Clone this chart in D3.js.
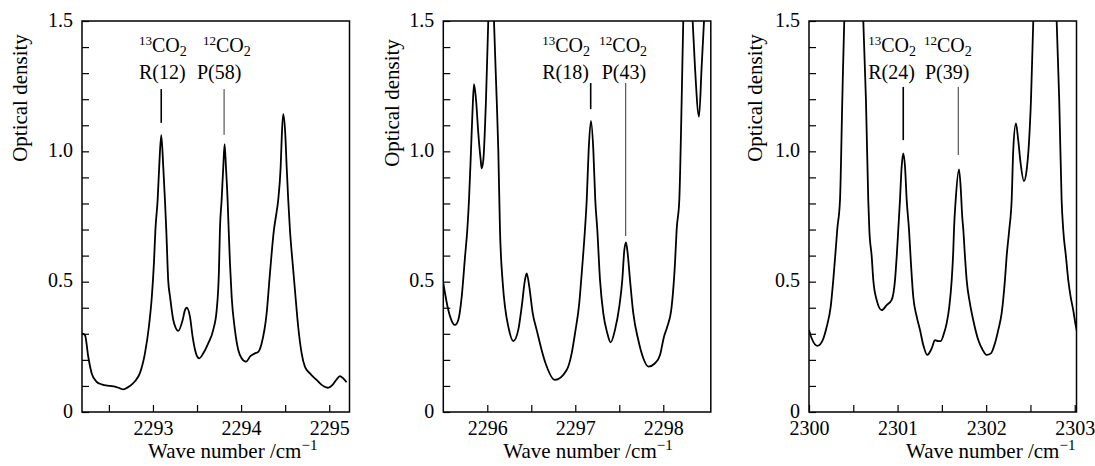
<!DOCTYPE html>
<html>
<head>
<meta charset="utf-8">
<script src="https://cdn.jsdelivr.net/npm/d3@7"></script>
<style>
  body { margin: 0; background: #fff; }
</style>
</head>
<body>
<svg id="chart" width="1095" height="466"></svg>
<script>
// spectra: [wave number, optical density]
const spectrum1 = [
  [2292.195, 0.302], [2292.229, 0.295], [2292.266, 0.212], [2292.305, 0.148], [2292.361, 0.116],
  [2292.418, 0.106], [2292.512, 0.100], [2292.569, 0.097], [2292.626, 0.091], [2292.663, 0.087],
  [2292.739, 0.100], [2292.796, 0.118], [2292.853, 0.150], [2292.909, 0.225], [2292.955, 0.330],
  [2292.989, 0.450], [2293.011, 0.570], [2293.028, 0.700], [2293.053, 0.813], [2293.071, 0.941],
  [2293.094, 1.062], [2293.117, 0.941], [2293.136, 0.813], [2293.151, 0.700], [2293.174, 0.500],
  [2293.193, 0.445], [2293.230, 0.354], [2293.255, 0.325], [2293.287, 0.311], [2293.337, 0.353],
  [2293.363, 0.391], [2293.382, 0.400], [2293.420, 0.366], [2293.450, 0.289], [2293.488, 0.225],
  [2293.525, 0.206], [2293.571, 0.225], [2293.627, 0.263], [2293.684, 0.315], [2293.723, 0.391],
  [2293.749, 0.545], [2293.760, 0.700], [2293.779, 0.813], [2293.798, 0.941], [2293.813, 1.028],
  [2293.828, 0.941], [2293.847, 0.813], [2293.859, 0.700], [2293.874, 0.570], [2293.893, 0.442],
  [2293.930, 0.315], [2293.968, 0.238], [2294.006, 0.206], [2294.055, 0.193], [2294.108, 0.215],
  [2294.157, 0.225], [2294.195, 0.231], [2294.233, 0.263], [2294.290, 0.379], [2294.327, 0.530],
  [2294.373, 0.700], [2294.395, 0.750], [2294.421, 0.813], [2294.449, 0.941], [2294.463, 1.069],
  [2294.478, 1.143], [2294.501, 1.069], [2294.517, 0.941], [2294.535, 0.813], [2294.554, 0.700],
  [2294.585, 0.570], [2294.611, 0.468], [2294.648, 0.327], [2294.687, 0.225], [2294.724, 0.174],
  [2294.781, 0.148], [2294.857, 0.123], [2294.914, 0.104], [2294.982, 0.093], [2295.045, 0.107],
  [2295.084, 0.125], [2295.121, 0.138], [2295.159, 0.129], [2295.197, 0.114]
];

const spectrum2 = [
  [2295.500, 0.494], [2295.557, 0.391], [2295.595, 0.350], [2295.633, 0.334], [2295.670, 0.353],
  [2295.709, 0.442], [2295.747, 0.596], [2295.773, 0.700], [2295.792, 0.813], [2295.815, 1.005],
  [2295.834, 1.171], [2295.849, 1.258], [2295.872, 1.197], [2295.898, 1.069], [2295.925, 0.967],
  [2295.936, 0.935], [2295.955, 0.967], [2295.985, 1.197], [2296.011, 1.500], [2296.049, 1.850],
  [2296.076, 1.500], [2296.107, 1.197], [2296.125, 1.005], [2296.144, 0.700], [2296.175, 0.497],
  [2296.201, 0.404], [2296.239, 0.327], [2296.295, 0.272], [2296.352, 0.315], [2296.391, 0.404],
  [2296.428, 0.506], [2296.448, 0.532], [2296.477, 0.481], [2296.516, 0.379], [2296.561, 0.315],
  [2296.656, 0.193], [2296.769, 0.123], [2296.902, 0.161], [2296.959, 0.225], [2296.997, 0.302],
  [2297.045, 0.417], [2297.073, 0.532], [2297.110, 0.700], [2297.130, 0.813], [2297.152, 1.005],
  [2297.178, 1.117], [2297.205, 1.005], [2297.227, 0.813], [2297.250, 0.700], [2297.281, 0.506],
  [2297.318, 0.379], [2297.364, 0.302], [2297.402, 0.267], [2297.451, 0.315], [2297.500, 0.404],
  [2297.534, 0.506], [2297.557, 0.620], [2297.576, 0.651], [2297.595, 0.609], [2297.622, 0.506],
  [2297.659, 0.379], [2297.716, 0.276], [2297.773, 0.206], [2297.830, 0.174], [2297.906, 0.187],
  [2297.963, 0.219], [2298.008, 0.289], [2298.045, 0.327], [2298.095, 0.404], [2298.133, 0.570],
  [2298.152, 0.700], [2298.182, 0.813], [2298.209, 1.197], [2298.227, 1.500], [2298.281, 1.900],
  [2298.334, 1.500], [2298.360, 1.325], [2298.406, 1.133], [2298.436, 1.325], [2298.463, 1.500],
  [2298.539, 2.000]
];

const spectrum3 = [
  [2300.000, 0.315], [2300.030, 0.283], [2300.094, 0.254], [2300.155, 0.276], [2300.200, 0.327],
  [2300.245, 0.404], [2300.274, 0.506], [2300.301, 0.620], [2300.319, 0.700], [2300.350, 0.813],
  [2300.376, 1.197], [2300.398, 1.500], [2300.508, 2.000], [2300.613, 1.500], [2300.643, 1.197],
  [2300.669, 0.813], [2300.681, 0.700], [2300.708, 0.596], [2300.726, 0.506], [2300.764, 0.430],
  [2300.821, 0.391], [2300.877, 0.410], [2300.933, 0.430], [2300.971, 0.506], [2300.990, 0.596],
  [2301.008, 0.700], [2301.027, 0.813], [2301.046, 0.941], [2301.064, 0.992], [2301.084, 0.941],
  [2301.103, 0.813], [2301.129, 0.700], [2301.151, 0.570], [2301.177, 0.442], [2301.216, 0.366],
  [2301.253, 0.315], [2301.290, 0.257], [2301.335, 0.219], [2301.385, 0.244], [2301.422, 0.276],
  [2301.459, 0.272], [2301.487, 0.272], [2301.524, 0.302], [2301.554, 0.340], [2301.584, 0.404],
  [2301.611, 0.506], [2301.629, 0.620], [2301.637, 0.700], [2301.656, 0.813], [2301.693, 0.931],
  [2301.712, 0.864], [2301.730, 0.749], [2301.742, 0.700], [2301.761, 0.596], [2301.780, 0.506],
  [2301.817, 0.417], [2301.854, 0.353], [2301.911, 0.276], [2301.961, 0.238], [2302.006, 0.219],
  [2302.054, 0.225], [2302.099, 0.263], [2302.137, 0.315], [2302.175, 0.379], [2302.212, 0.506],
  [2302.231, 0.596], [2302.261, 0.700], [2302.288, 0.813], [2302.306, 1.005], [2302.336, 1.107],
  [2302.362, 1.043], [2302.389, 0.954], [2302.427, 0.886], [2302.457, 0.928], [2302.483, 1.031],
  [2302.506, 1.197], [2302.532, 1.500], [2302.664, 2.200], [2302.796, 1.500], [2302.825, 1.197],
  [2302.852, 0.813], [2302.870, 0.700], [2302.901, 0.596], [2302.927, 0.506], [2302.954, 0.442],
  [2302.983, 0.391], [2303.010, 0.334], [2303.025, 0.308]
];

const xDomains = [[2292.195, 2295.23], [2295.5, 2298.54], [2300, 2303.02]];
const xTickLabels = [[2293, 2294, 2295], [2296, 2297, 2298], [2300, 2301, 2302, 2303]];
const xMinorTicks = [[2292.5, 2293.5, 2294.5], [2296.5, 2297.5], [2300.5, 2301.5, 2302.5]];
const yTickLabels = [0, 0.5, 1.0, 1.5];
const yMinorTicks = [0.1, 0.2, 0.3, 0.4, 0.6, 0.7, 0.8, 0.9, 1.1, 1.2, 1.3, 1.4];

// annotations: line names, marker x, marker top/bottom (OD), text start
const lineNames13 = ['R(12)', 'R(18)', 'R(24)'];
const lineNames12 = ['P(58)', 'P(43)', 'P(39)'];
const marker13 = [2293.094, 2297.175, 2301.064];
const marker12 = [2293.807, 2297.573, 2301.685];
const markerTop = [1.239, 1.262, 1.247];
const marker13Bottom = [1.109, 1.162, 1.043];
const marker12Bottom = [1.063, 0.675, 0.986];
const text13Start = [2292.841, 2296.625, 2300.669];
const head12Start = [2293.567, 2297.273, 2301.298];
const text12Start = [2293.499, 2297.300, 2301.309];

const spectra = [spectrum1, spectrum2, spectrum3];

const FONT = '"Liberation Serif"';
const PANEL_LEFT = [82, 443.3, 809];
const TOP = 21;
const WIDTH = 267.5;
const HEIGHT = 391;
const Y_LABEL_OFFSET = [-55, -44, -47];
const Y_LABEL_CENTER = [98, 103, 98];
const X_LABEL_OFFSET = [66, 60, 97];

const svg = d3.select('#chart');
const defs = svg.append('defs');

spectra.forEach((data, i) => {
  const x = d3.scaleLinear().domain(xDomains[i]).range([0, WIDTH]);
  const y = d3.scaleLinear().domain([0, 1.5]).range([HEIGHT, 0]);

  const g = svg.append('g')
    .attr('transform', `translate(${PANEL_LEFT[i]},${TOP})`);

  defs.append('clipPath').attr('id', `clip${i}`)
    .append('rect').attr('width', WIDTH).attr('height', HEIGHT);

  // y ticks point inwards
  g.append('g')
    .call(d3.axisLeft(y).tickValues(yMinorTicks.concat(yTickLabels)).tickSizeInner(-7).tickSizeOuter(0).tickFormat(''))
    .call(a => a.select('.domain').remove())
    .call(a => a.selectAll('line').attr('stroke', '#000').attr('stroke-width', 1.2));

  g.append('g')
    .call(d3.axisLeft(y).tickValues(yTickLabels).tickSize(0).tickPadding(9)
      .tickFormat(d => (d === 0 ? '0' : d3.format('.1f')(d))))
    .attr('font-size', 20)
    .call(a => a.select('.domain').remove())
    .call(a => a.selectAll('text').attr('dy', '0.25em'));

  // x ticks
  g.append('g')
    .attr('transform', `translate(0,${HEIGHT})`)
    .call(d3.axisBottom(x).tickValues(xMinorTicks[i].concat(xTickLabels[i])).tickSizeInner(-7).tickSizeOuter(0).tickFormat(''))
    .call(a => a.select('.domain').remove())
    .call(a => a.selectAll('line').attr('stroke', '#000').attr('stroke-width', 1.2));

  g.append('g')
    .attr('transform', `translate(0,${HEIGHT})`)
    .call(d3.axisBottom(x).tickValues(xTickLabels[i]).tickSize(0).tickPadding(9).tickFormat(d3.format('d')))
    .attr('font-size', 20)
    .call(a => a.select('.domain').remove());

  // frame
  g.append('rect')
    .attr('width', WIDTH).attr('height', HEIGHT)
    .attr('fill', 'none').attr('stroke', '#000').attr('stroke-width', 1.5);

  // spectrum
  g.append('path')
    .datum(data)
    .attr('clip-path', `url(#clip${i})`)
    .attr('fill', 'none')
    .attr('stroke', '#000')
    .attr('stroke-width', 1.8)
    .attr('d', d3.line().x(d => x(d[0])).y(d => y(d[1])).curve(d3.curveMonotoneX));

  // axis titles
  g.append('text')
    .attr('transform', `translate(${Y_LABEL_OFFSET[i]},${Y_LABEL_CENTER[i] - TOP}) rotate(-90)`)
    .attr('text-anchor', 'middle')
    .attr('font-size', 21)
    .text('Optical density');

  const xl = g.append('text')
    .attr('x', X_LABEL_OFFSET[i]).attr('y', HEIGHT + 46)
    .attr('font-size', 21);
  xl.append('tspan').text('Wave number /cm');
  xl.append('tspan').attr('font-size', 15).attr('dy', -8).text('\u22121');

  // isotopologue headings
  [[text13Start[i], '13'], [head12Start[i], '12']].forEach(([w, iso]) => {
    const t = g.append('text').attr('x', x(w)).attr('y', 52 - TOP).attr('font-size', 20);
    t.append('tspan').attr('font-size', 13).attr('dy', -7).text(iso);
    t.append('tspan').attr('dy', 7).text('CO');
    t.append('tspan').attr('font-size', 14).attr('dy', 4).text('2');
  });

  g.append('text').attr('x', x(text13Start[i])).attr('y', 79 - TOP).attr('font-size', 20).text(lineNames13[i]);
  g.append('text').attr('x', x(text12Start[i])).attr('y', 79 - TOP).attr('font-size', 20).text(lineNames12[i]);

  g.append('line')
    .attr('x1', x(marker13[i])).attr('x2', x(marker13[i]))
    .attr('y1', y(markerTop[i])).attr('y2', y(marker13Bottom[i]))
    .attr('stroke', '#000').attr('stroke-width', 1.6);
  g.append('line')
    .attr('x1', x(marker12[i])).attr('x2', x(marker12[i]))
    .attr('y1', y(markerTop[i])).attr('y2', y(marker12Bottom[i]))
    .attr('stroke', '#000').attr('stroke-width', 0.8);
});

// serif everywhere, overriding the axis default
svg.selectAll('g').attr('font-family', null);
svg.selectAll('text').style('font-family', FONT).attr('fill', '#000');
</script>
</body>
</html>
